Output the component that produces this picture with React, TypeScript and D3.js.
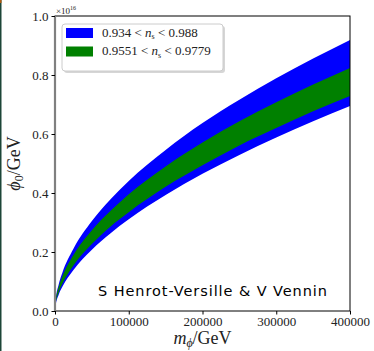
import React, { useEffect, useRef } from 'react';
import * as d3 from 'd3';

// m_phi sample points (GeV) and band edges (units of 1e16 GeV)
const masses = [0, 1000, 5000, 10000, 25000, 50000, 75000, 100000, 150000, 200000, 250000, 300000, 350000, 400000];
const blueTop = [0, 0.038, 0.090, 0.130, 0.211, 0.305, 0.378, 0.441, 0.546, 0.637, 0.716, 0.789, 0.856, 0.919];
const blueBottom = [0, 0.020, 0.055, 0.082, 0.139, 0.208, 0.263, 0.311, 0.393, 0.465, 0.529, 0.588, 0.643, 0.695];
const greenTop = [0, 0.034, 0.081, 0.117, 0.190, 0.274, 0.339, 0.396, 0.490, 0.571, 0.643, 0.708, 0.768, 0.824];
const greenBottom = [0, 0.025, 0.063, 0.092, 0.154, 0.227, 0.286, 0.335, 0.421, 0.494, 0.561, 0.620, 0.677, 0.729];

const xTicks = [0, 100000, 200000, 300000, 400000];
const yTicks = [0, 0.2, 0.4, 0.6, 0.8, 1.0];

const legendItems = [
  { color: '#0000ff', lo: '0.934', hi: '0.988' },
  { color: '#008000', lo: '0.9551', hi: '0.9779' }
];

const App = () => {
  const svgRef = useRef<SVGSVGElement>(null);

  useEffect(() => {
    const width = 374;
    const height = 351;
    const margin = { top: 16, right: 24, bottom: 40, left: 55 };
    const serif = '"Liberation Serif", "DejaVu Serif", serif';

    const x = d3.scaleLinear()
      .domain([0, 400000])
      .range([margin.left, width - margin.right]);
    const y = d3.scaleLinear()
      .domain([0, 1])
      .range([height - margin.bottom, margin.top]);

    const svg = d3.select(svgRef.current);
    svg.selectAll('*').remove();
    svg.attr('width', width).attr('height', height);

    svg.append('rect').attr('width', width).attr('height', height).attr('fill', 'white');
    svg.append('rect').attr('x', 0).attr('y', 0).attr('width', 1.5).attr('height', height).attr('fill', '#1d4638');
    svg.append('rect').attr('x', 0).attr('y', 0).attr('width', 1.5).attr('height', 3).attr('fill', '#b05a10');

    const band = (lo: number[], hi: number[]) => d3.area<number>()
      .x(i => x(masses[i]))
      .y0(i => y(lo[i]))
      .y1(i => y(hi[i]))
      .curve(d3.curveMonotoneX)(d3.range(masses.length));

    svg.append('path').attr('d', band(blueBottom, blueTop)).attr('fill', '#0000ff');
    svg.append('path').attr('d', band(greenBottom, greenTop)).attr('fill', '#008000');

    // frame
    const [x0, x1] = x.range();
    const [y0, y1] = y.range();
    svg.append('rect')
      .attr('x', x0).attr('y', y1)
      .attr('width', x1 - x0).attr('height', y0 - y1)
      .attr('fill', 'none').attr('stroke', 'black').attr('stroke-width', 1);
    svg.append('line')
      .attr('x1', x0).attr('x2', x0).attr('y1', y1).attr('y2', y0)
      .attr('stroke', '#808080').attr('stroke-width', 2.2);

    // x axis
    const gx = svg.append('g')
      .attr('transform', `translate(0,${y0})`)
      .call(d3.axisBottom(x).tickValues(xTicks).tickSize(3.5).tickPadding(2).tickFormat(d3.format('d')));
    gx.select('.domain').remove();
    gx.selectAll('text').attr('font-family', serif).attr('font-size', 13).attr('fill', '#222');

    // y axis
    const gy = svg.append('g')
      .attr('transform', `translate(${x0},0)`)
      .call(d3.axisLeft(y).tickValues(yTicks).tickSize(3.5).tickPadding(3).tickFormat(d3.format('.1f')));
    gy.select('.domain').remove();
    gy.selectAll('text').attr('font-family', serif).attr('font-size', 13).attr('fill', '#222');

    // offset text
    const off = svg.append('text').attr('x', x0 + 1).attr('y', y1 - 2.5)
      .attr('font-family', serif).attr('font-size', 9).attr('fill', '#222');
    off.append('tspan').text('×10');
    off.append('tspan').attr('font-size', 6).attr('dy', -4).text('16');

    // axis labels
    const xl = svg.append('text')
      .attr('x', (x0 + x1) / 2).attr('y', 344)
      .attr('text-anchor', 'middle')
      .attr('font-family', serif).attr('font-size', 18).attr('fill', '#222');
    xl.append('tspan').attr('font-style', 'italic').text('m');
    xl.append('tspan').attr('font-style', 'italic').attr('font-size', 12).attr('dy', 3).text('ϕ');
    xl.append('tspan').attr('dy', -3).text('/GeV');

    const yl = svg.append('text')
      .attr('transform', `translate(20,${(y0 + y1) / 2}) rotate(-90)`)
      .attr('text-anchor', 'middle')
      .attr('font-family', serif).attr('font-size', 18).attr('fill', '#222');
    yl.append('tspan').attr('font-style', 'italic').text('ϕ');
    yl.append('tspan').attr('font-size', 12).attr('dy', 3).text('0');
    yl.append('tspan').attr('dy', -3).text('/GeV');

    // legend
    const lg = svg.append('g');
    lg.append('rect').attr('x', 64).attr('y', 26).attr('width', 161).attr('height', 47).attr('rx', 3)
      .attr('fill', '#bbbbbb').attr('opacity', 0.6);
    lg.append('rect').attr('x', 62).attr('y', 24).attr('width', 161).attr('height', 47).attr('rx', 3)
      .attr('fill', 'white').attr('stroke', '#cccccc').attr('stroke-width', 1);
    legendItems.forEach((d, i) => {
      const cy = 33 + i * 18.5;
      lg.append('rect').attr('x', 66).attr('y', cy - 5).attr('width', 27).attr('height', 10).attr('fill', d.color);
      const t = lg.append('text').attr('x', 102).attr('y', cy + 3.5)
        .attr('font-family', serif).attr('font-size', 13).attr('fill', '#222');
      t.append('tspan').text(`${d.lo} < `);
      t.append('tspan').attr('font-style', 'italic').text('n');
      t.append('tspan').attr('font-size', 8).attr('dy', 2.5).text('s');
      t.append('tspan').attr('dy', -2.5).text(` < ${d.hi}`);
    });

    // credit
    svg.append('text')
      .attr('x', 98).attr('y', 295.5)
      .attr('font-family', '"DejaVu Sans", sans-serif').attr('font-size', 14.5)
      .attr('textLength', 229).attr('lengthAdjust', 'spacing')
      .attr('fill', 'black')
      .text('S Henrot-Versille & V Vennin');
  }, []);

  return (
    <svg ref={svgRef} style={{ position: 'absolute', left: 0, top: 0 }}></svg>
  );
};

export default App;
